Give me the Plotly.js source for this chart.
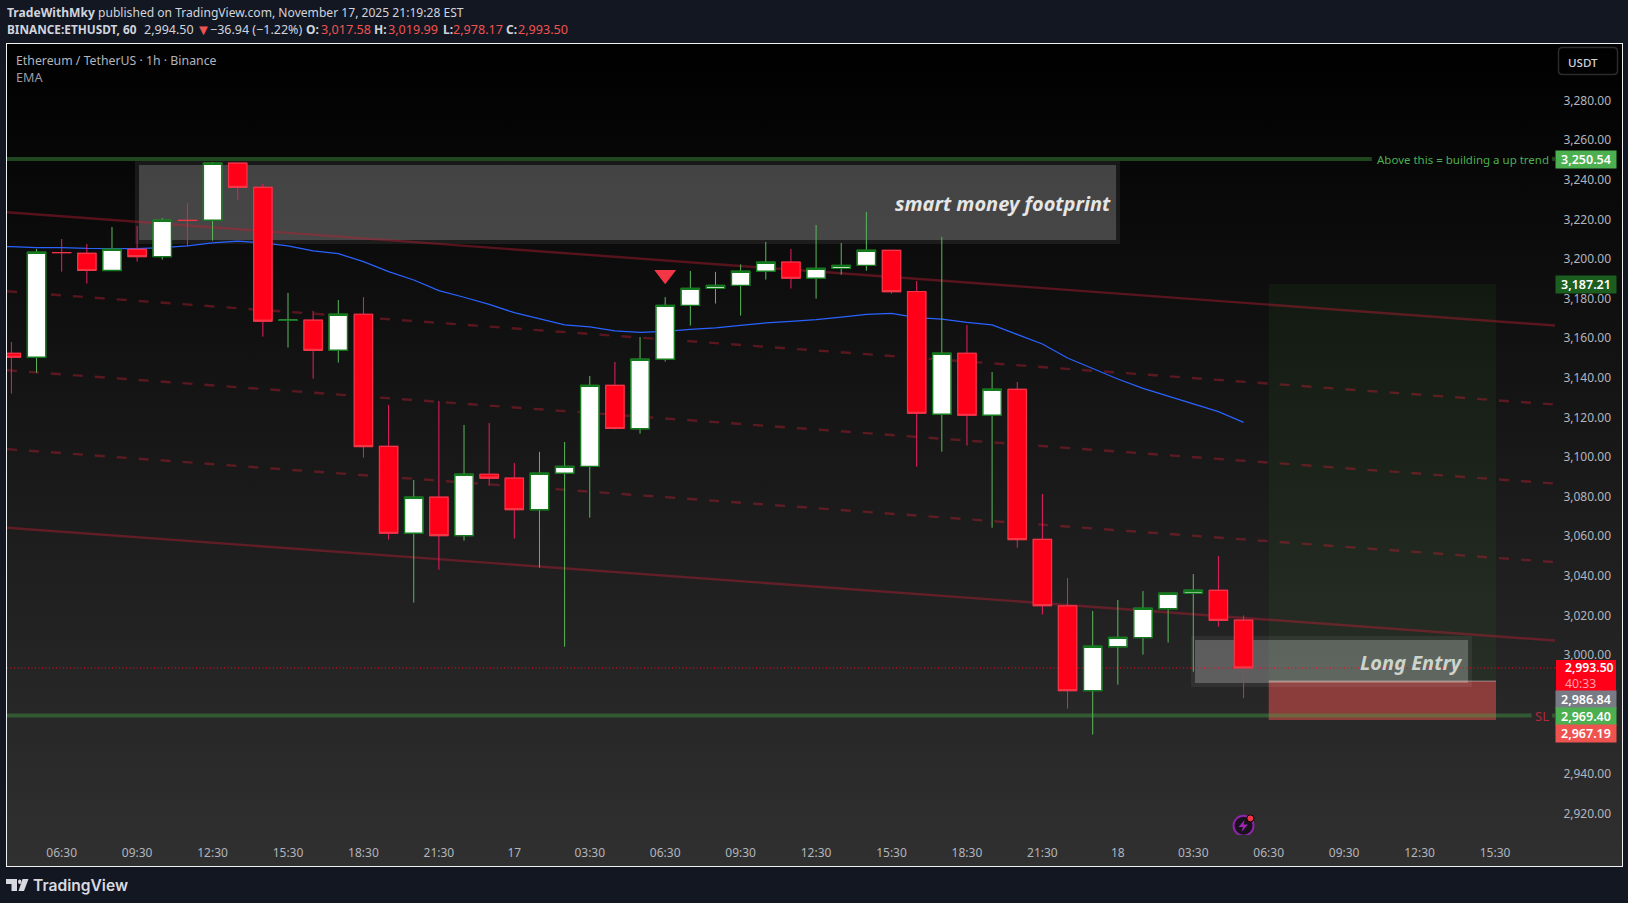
<!DOCTYPE html>
<html><head><meta charset="utf-8">
<script src="https://cdn.plot.ly/plotly-3.0.1.min.js"></script>
<style>
html,body{margin:0;padding:0;width:1628px;height:903px;background:#131722;overflow:hidden}
#bg{position:absolute;left:6px;top:43px;width:1614.5px;height:821.5px;border:1.5px solid #f0f0f0;background:linear-gradient(#000 0%,#303030 100%)}
#chart{position:absolute;left:0;top:0;width:1628px;height:903px}
</style></head><body>
<div id="bg"></div><div id="chart"></div>
<script>
const candleIndex=[0,1,2,3,4,5,6,7,8,9,10,11,12,13,14,15,16,17,18,19,20,21,22,23,24,25,26,27,28,29,30,31,32,33,34,35,36,37,38,39,40,41,42,43,44,45,46,47,48,49];
const openP=[3152.4,3150.4,3203.3,3202.9,3194.2,3204.9,3201.2,3219.5,3219.6,3248.4,3236.2,3169.1,3169.1,3153.9,3172.1,3105.4,3061.5,3079.7,3060.3,3091.3,3089.3,3073.4,3091.8,3095.3,3136.2,3114.3,3149.4,3176.6,3185.2,3186.7,3193.8,3198.4,3190.3,3195.3,3196.8,3204.4,3183.6,3121.6,3152.4,3121.1,3134.2,3058.4,3024.8,2982.0,3004.2,3008.8,3023.4,3031.2,3032.7,3017.58];
const highP=[3158.1,3205.1,3210.1,3207.6,3216.2,3216.7,3220.7,3228.3,3249.0,3248.6,3237.9,3182.9,3173.8,3179.3,3180.8,3126.3,3088.4,3128.3,3116.2,3117.2,3097.0,3102.6,3107.6,3140.9,3148.0,3160.6,3180.8,3194.0,3193.5,3197.3,3208.6,3205.1,3217.2,3208.1,3223.8,3204.6,3188.9,3211.1,3166.7,3142.9,3137.9,3081.3,3038.9,3022.2,3027.8,3032.3,3031.4,3040.9,3050.0,3019.99];
const lowP=[3132.0,3142.6,3193.6,3187.6,3194.0,3198.7,3199.7,3206.4,3209.3,3230.0,3160.8,3155.3,3139.6,3147.7,3099.7,3058.3,3026.5,3043.1,3057.8,3085.5,3058.8,3044.1,3004.2,3069.4,3114.0,3111.8,3148.2,3166.4,3177.5,3171.4,3189.6,3185.1,3180.0,3192.1,3194.1,3182.5,3095.1,3102.7,3105.8,3064.3,3054.2,3020.4,2972.9,2959.8,2985.0,3000.2,3006.3,2991.6,3014.3,2978.17];
const closeP=[3150.4,3203.4,3203.25,3194.2,3204.9,3201.2,3219.6,3219.45,3248.4,3236.2,3168.6,3169.15,3153.9,3172.1,3105.3,3061.5,3079.7,3060.3,3091.3,3089.3,3073.4,3091.8,3095.3,3136.2,3114.4,3149.4,3176.6,3185.2,3186.7,3193.8,3198.4,3190.3,3195.3,3196.8,3204.4,3183.5,3122.1,3152.4,3121.1,3134.2,3058.3,3024.9,2982.0,3004.4,3008.9,3023.6,3031.2,3032.7,3017.5,2993.50];
const emaValues=[3206.3,3206.3,3205.8,3205.8,3205.4,3205.3,3205.3,3205.8,3206.6,3208.1,3209.1,3208.1,3206.6,3204.1,3202.7,3198.7,3193.6,3189.4,3184.0,3180.7,3177.1,3172.9,3169.9,3166.7,3165.7,3163.7,3163.0,3163.5,3164.5,3165.2,3166.5,3167.7,3168.5,3169.4,3170.7,3172.1,3172.6,3170.4,3169.7,3168.0,3166.7,3162.1,3157.1,3150.0,3144.5,3139.4,3134.7,3130.8,3127.1,3122.9,3117.5];
const emaIndex=[-0.175].concat(candleIndex);
const xEdges=[-0.175,61.385];
const channelSolidTop=[3223.6,3166.4];
const channelDash1=[3183.7,3126.5];
const channelDash2=[3143.8,3086.6];
const channelDash3=[3104.0,3046.9];
const channelSolidBottom=[3064.3,3007.3];
const upLevel=3250.54, targetLevel=3187.21, lastPrice=2993.50, entryLevel=2986.84, slLevel=2969.40, stopLevel=2967.19;
const tickIndex=[2,5,8,11,14,17,20,23,26,29,32,35,38,41,44,47,50,53,56,59];
const tickLabels=['06:30','09:30','12:30','15:30','18:30','21:30','17','03:30','06:30','09:30','12:30','15:30','18:30','21:30','18','03:30','06:30','09:30','12:30','15:30'];
const priceTicks=[2920,2940,3000,3020,3040,3060,3080,3100,3120,3140,3160,3180,3200,3220,3240,3260,3280];

const FONT='"Noto Sans", "Open Sans", sans-serif';
const L=7,R=1555,T=44,B=835;
const px=X=>(X-L)/(R-L), py=Y=>(B-Y)/(B-T);
const trend=(y,dash)=>({type:'scatter',mode:'lines',x:xEdges,y:y,line:{color:'rgba(190,30,50,0.42)',width:2.4,dash:dash||'solid'},hoverinfo:'skip',showlegend:false,zorder:0});
const level=(x,y)=>({type:'scatter',mode:'lines',x:x,y:y,line:{color:'rgba(70,160,70,0.42)',width:4},hoverinfo:'skip',showlegend:false,zorder:0});
const bodyHigh=openP.map((o,i)=>Math.max(o,closeP[i]));
const bodyLow=openP.map((o,i)=>Math.min(o,closeP[i]));
const traces=[
 trend(channelSolidTop),trend(channelDash1,'10px,12px'),trend(channelDash2,'10px,12px'),trend(channelDash3,'10px,12px'),trend(channelSolidBottom),
 level([-0.175,54.1],[upLevel,upLevel]),level([61.27,61.385],[upLevel,upLevel]),
 level([-0.175,60.45],[slLevel,slLevel]),level([61.27,61.385],[slLevel,slLevel]),
 {type:'scatter',mode:'lines',x:emaIndex,y:emaValues,line:{color:'#2962ff',width:1.25},hoverinfo:'skip',showlegend:false,zorder:0},
 {type:'scatter',mode:'lines',x:xEdges,y:[lastPrice,lastPrice],line:{color:'#ff0018',width:1,dash:'1px,2.5px'},hoverinfo:'skip',showlegend:false,zorder:0},
 {type:'candlestick',x:candleIndex,open:openP,high:highP,low:lowP,close:closeP,whiskerwidth:0,zorder:1,
  increasing:{line:{color:'#5cb85c',width:1},fillcolor:'#ffffff'},decreasing:{line:{color:'#e91e63',width:1},fillcolor:'#ff0018'},hoverinfo:'skip',showlegend:false},
 {type:'candlestick',x:candleIndex,open:openP,high:bodyHigh,low:bodyLow,close:closeP,whiskerwidth:0,zorder:2,
  increasing:{line:{color:'#127a1c',width:1.4},fillcolor:'#ffffff'},decreasing:{line:{color:'#f23645',width:1.2},fillcolor:'#ff0018'},hoverinfo:'skip',showlegend:false},
 {type:'scatter',mode:'markers',x:[26],y:[3192.0],marker:{symbol:'triangle-down',size:19,color:'#f23645'},hoverinfo:'skip',showlegend:false,zorder:3},
 {type:'scatter',mode:'markers',x:[49],y:[2913.8],marker:{symbol:'circle',size:20,color:'#17121c',line:{color:'#8e24aa',width:2}},hoverinfo:'skip',showlegend:false,zorder:3},
 {type:'scatter',mode:'markers',x:[49.27],y:[2917.5],marker:{symbol:'circle',size:7,color:'#f23645',line:{color:'#000',width:1}},hoverinfo:'skip',showlegend:false,zorder:3}
];
const box=(x0,x1,y0,y1,fill)=>({type:'rect',xref:'x',yref:'y',x0,x1,y0,y1,fillcolor:fill,line:{width:0},layer:'below'});
const prect=(X0,Y0,X1,Y1,fill)=>({type:'rect',xref:'paper',yref:'paper',x0:px(X0),x1:px(X1),y0:py(Y1),y1:py(Y0),fillcolor:fill,line:{width:0},layer:'above'});
const poly=(pts,fill)=>({type:'path',xref:'paper',yref:'paper',path:'M'+pts.map(p=>px(p[0])+','+py(p[1])).join(' L')+' Z',fillcolor:fill,line:{width:0},layer:'above'});
const rr=(X0,Y0,X1,Y1,r)=>{const a=px,b=py;return `M${a(X0+r)},${b(Y0)} L${a(X1-r)},${b(Y0)} Q${a(X1)},${b(Y0)} ${a(X1)},${b(Y0+r)} L${a(X1)},${b(Y1-r)} Q${a(X1)},${b(Y1)} ${a(X1-r)},${b(Y1)} L${a(X0+r)},${b(Y1)} Q${a(X0)},${b(Y1)} ${a(X0)},${b(Y1-r)} L${a(X0)},${b(Y0+r)} Q${a(X0)},${b(Y0)} ${a(X0+r)},${b(Y0)} Z`;};
const shapes=[
 box(50,59.04,entryLevel,targetLevel,'rgba(56,142,60,0.09)'),
 box(50,59.04,stopLevel,entryLevel,'rgba(239,83,80,0.5)'),
 {type:'line',xref:'x',yref:'y',x0:50,x1:59.04,y0:entryLevel,y1:entryLevel,line:{color:'rgba(200,200,200,0.55)',width:1},layer:'below'},
 box(4.915,44.09,3207.6,3249.53,'rgba(255,255,255,0.07)'),
 box(5.075,43.93,3209.6,3247.5,'rgba(255,255,255,0.19)'),
 box(46.91,58.09,2983.9,3009.6,'rgba(255,255,255,0.06)'),
 box(47.07,57.93,2985.9,3007.6,'rgba(255,255,255,0.22)'),
 {type:'path',xref:'paper',yref:'paper',path:rr(1558.5,47.5,1617.5,74.5,4),line:{color:'#2b2b2e',width:1.5},fillcolor:'rgba(0,0,0,0)',layer:'above'},
 prect(1556,660,1616,691,'#ff0018'),
 poly([[1244.6,820],[1238.5,827],[1243,827],[1241.4,832],[1248,824.6],[1243.6,824.6]],'#9c27b0'),
 prect(6,879,17,884,'#d8dae0'),prect(11.5,884,17,891,'#d8dae0'),
 poly([[22.5,879],[28.5,879],[24,891],[18.5,891]],'#d8dae0'),
 {type:'circle',xref:'paper',yref:'paper',x0:px(18),x1:px(21.4),y0:py(884),y1:py(879.6),fillcolor:'#d8dae0',line:{width:0},layer:'above'}
];
const note=(X,Y,text,o)=>Object.assign({xref:'paper',yref:'paper',x:px(X),y:py(Y),xanchor:'left',yanchor:'middle',showarrow:false,text,font:{family:FONT,size:12.3,color:'#b2b5be'},borderpad:0},o||{});
const tag=(Y,text,bg,h)=>note(1586,Y,text,{xanchor:'center',bgcolor:bg,width:60,height:h||17,font:{family:FONT,size:12.5,color:'#ffffff',weight:600}});
const RED='#ef5350';
const hf=(c,w,s)=>({font:{family:FONT,size:s||12.1,color:c||'#d1d4dc',weight:w||400}});
const annotations=[
 note(6,12.5,'<b>TradeWithMky</b> published on TradingView.com, November 17, 2025 21:19:28 EST',hf()),
 note(6.4,29.5,'<b>BINANCE:ETHUSDT, 60</b>',hf('#d1d4dc',400,11.8)),
 note(142.5,29.5,'2,994.50',hf('#d1d4dc',400,12.5)),
 note(195,29,'▼',hf(RED,400,15)),
 note(209,29.5,'−36.94 (−1.22%)',hf('#d1d4dc',400,12.5)),
 note(305,29.5,'<b>O:</b>',hf('#d1d4dc',400,12)),
 note(320,29.5,'3,017.58',hf(RED,400,12.6)),
 note(373,29.5,'<b>H:</b>',hf('#d1d4dc',400,12)),
 note(387,29.5,'3,019.99',hf(RED,400,12.6)),
 note(442,29.5,'<b>L:</b>',hf('#d1d4dc',400,12)),
 note(452,29.5,'2,978.17',hf(RED,400,12.6)),
 note(505,29.5,'<b>C:</b>',hf('#d1d4dc',400,12)),
 note(517,29.5,'2,993.50',hf(RED,400,12.6)),
 note(14.8,60.7,'Ethereum / TetherUS · 1h · Binance',{font:{family:FONT,size:12.3,color:'#b2b5be'}}),
 note(14.8,77.5,'EMA',{font:{family:FONT,size:12.6,color:'#9a9da6'}}),
 note(1567,62,'USDT',{font:{family:FONT,size:11.6,color:'#d1d4dc',weight:500}}),
 note(1376,159,'Above this = building a up trend',{font:{family:FONT,size:11.5,color:'#4caf50'}}),
 note(1534,715.7,'SL',{font:{family:FONT,size:13,color:'#b2283f'}}),
 note(1112,203,'smart money footprint',{xanchor:'right',font:{family:FONT,size:20,color:'#e6e6e6',weight:700,style:'italic'}}),
 note(1464,662.5,'Long Entry',{xanchor:'right',font:{family:FONT,size:20,color:'#ccd4cc',weight:700,style:'italic'}}),
 tag(159.3,'3,250.54','#4caf50'),
 tag(284.5,'3,187.21','#1b5e20'),
 note(1564,675.5,'2,993.50<br><span style="color:#ffa3ad;font-weight:400">40:33</span>',{align:'left',font:{family:FONT,size:12.2,color:'#ffffff',weight:600}}),
 tag(699.5,'2,986.84','#787b86'),
 tag(716.5,'2,969.40','#4caf50'),
 tag(733.5,'2,967.19','#ef5350'),
 note(32,885,'TradingView',{font:{family:'Inter, "Noto Sans", sans-serif',size:15.6,color:'#d8dae0',weight:600}})
];
const layout={
 width:1628,height:903,margin:{l:L,r:1628-R,t:T,b:903-B,pad:0},autosize:false,
 paper_bgcolor:'rgba(0,0,0,0)',plot_bgcolor:'rgba(0,0,0,0)',showlegend:false,boxmode:'overlay',boxgap:0.27,boxgroupgap:0,
 xaxis:{type:'linear',range:xEdges,rangeslider:{visible:false},showgrid:false,zeroline:false,showline:false,tickmode:'array',tickvals:tickIndex,ticktext:tickLabels,ticks:'outside',ticklen:7,tickcolor:'rgba(0,0,0,0)',tickfont:{family:FONT,size:12,color:'#b2b5be'}},
 yaxis:{type:'linear',side:'right',range:[2909.1,3308.6],showgrid:false,zeroline:false,showline:false,tickmode:'array',tickvals:priceTicks,ticktext:priceTicks.map(v=>v.toLocaleString('en-US',{minimumFractionDigits:2})),ticks:'outside',ticklen:5,tickcolor:'rgba(0,0,0,0)',tickfont:{family:FONT,size:12,color:'#b2b5be'}},
 shapes,annotations
};
Plotly.newPlot('chart',traces,layout,{displayModeBar:false,staticPlot:true});
</script></body></html>
